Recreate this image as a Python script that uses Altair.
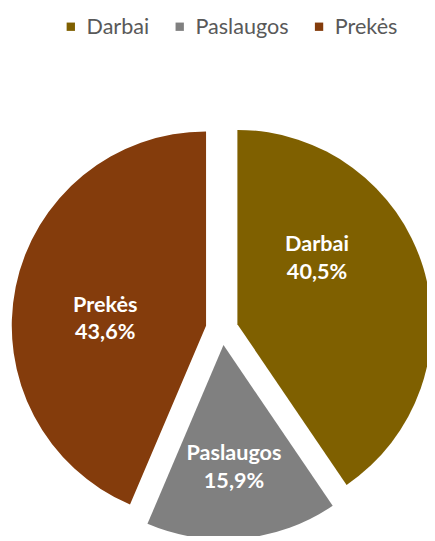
import altair as alt
import pandas as pd

categories = ["Darbai", "Paslaugos", "Prekės"]
shares = [40.5, 15.9, 43.6]
colors = ["#7F6000", "#808080", "#843C0C"]

# per-label nudges (label placement style, like Excel's best fit)
label_nudge = {"Darbai": (-24, -49), "Paslaugos": (0, 1), "Prekės": (5, 1)}

df = pd.DataFrame({"cat": categories, "share": shares})

W, H = 427, 533
CX, CY = 218, 322
R = 198
EXPLODE = 16.5
LABEL_R = 110
TAU = 6.283185307179586

base = (
    alt.Chart(df)
    .transform_joinaggregate(total="sum(share)")
    .transform_window(cum="sum(share)", sort=[alt.SortField("cat")])
    .transform_calculate(
        t0="(datum.cum - datum.share) / datum.total",
        t1="datum.cum / datum.total",
    )
    .transform_calculate(mid="PI * (datum.t0 + datum.t1)")
    .transform_calculate(
        px=f"{CX} + {EXPLODE} * sin(datum.mid)",
        py=f"{CY} - {EXPLODE} * cos(datum.mid)",
        label="datum.cat + '\\n' + replace(format(datum.share, '.1f'), '.', ',') + '%'",
    )
    .transform_calculate(
        lx=f"datum.px + {LABEL_R} * sin(datum.mid)",
        ly=f"datum.py - {LABEL_R} * cos(datum.mid)",
    )
)

arcs = base.mark_arc(radius=R, clip=True).encode(
    x=alt.X("px:Q", scale=None),
    y=alt.Y("py:Q", scale=None),
    theta=alt.Theta("t0:Q", stack=False, scale=alt.Scale(domain=[0, 1], range=[0, TAU])),
    theta2="t1:Q",
    color=alt.Color(
        "cat:N",
        scale=alt.Scale(domain=categories, range=colors),
        legend=alt.Legend(
            title=None,
            orient="none",
            legendX=53,
            legendY=3,
            direction="horizontal",
            columns=3,
            columnPadding=20,
            symbolType="square",
            symbolSize=72,
            symbolStrokeWidth=0,
            labelOffset=5,
            labelFont="Lato",
            labelFontSize=22,
            labelColor="#595959",
        ),
    ),
)

layers = [arcs]
for c in categories:
    ddx, ddy = label_nudge[c]
    layers.append(
        base.transform_filter(alt.datum.cat == c)
        .mark_text(
            font="Lato",
            fontWeight="bold",
            fontSize=22,
            color="white",
            lineBreak="\n",
            lineHeight=28,
            align="center",
            baseline="middle",
            dx=ddx,
            dy=ddy,
        )
        .encode(x=alt.X("lx:Q", scale=None), y=alt.Y("ly:Q", scale=None), text="label:N")
    )

chart = (
    alt.layer(*layers)
    .properties(width=W, height=H, padding=0, autosize=alt.AutoSizeParams(type="none"))
    .configure_view(strokeWidth=0)
)

chart.save("out.html", embed_options={"renderer": "svg", "actions": False})
